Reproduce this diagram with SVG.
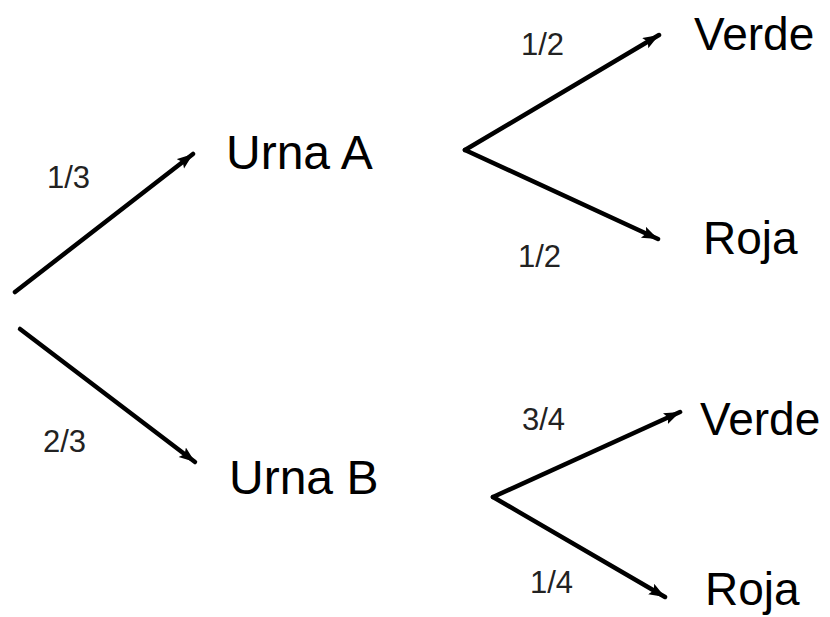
<svg xmlns="http://www.w3.org/2000/svg" width="830" height="617" viewBox="0 0 830 617">
<defs>
<style>
.c{stroke:#000;stroke-width:4.5;stroke-linecap:round;fill:none;marker-end:url(#ah)}
.n{font-family:"Liberation Sans",Arial,sans-serif;font-size:46px;fill:#000}
.u{font-size:48px}
.p{font-family:"Liberation Sans",Arial,sans-serif;font-size:31px;fill:#222}
</style>
<marker id="ah" markerUnits="userSpaceOnUse" markerWidth="20" markerHeight="14" refX="16" refY="6" orient="auto">
<path d="M0,0 L16,6 L0,12 L3,6 Z" fill="#000"/>
</marker>
</defs>
<rect width="830" height="617" fill="#fff"/>
<g id="connectors">
<line class="c" x1="15" y1="292" x2="193" y2="154"/>
<line class="c" x1="20" y1="329" x2="195" y2="462"/>
<line class="c" x1="465" y1="150" x2="659" y2="35"/>
<line class="c" x1="465" y1="150" x2="658" y2="239"/>
<line class="c" x1="493" y1="497" x2="680" y2="412"/>
<line class="c" x1="493" y1="497" x2="665" y2="597"/>
</g>
<g id="urnaA"><text class="n u" x="226" y="169">Urna A</text></g>
<g id="urnaB"><text class="n u" x="229" y="494">Urna B</text></g>
<g id="verdeA"><text class="n" x="694" y="50">Verde</text></g>
<g id="rojaA"><text class="n" x="703" y="254">Roja</text></g>
<g id="verdeB"><text class="n" x="700" y="435">Verde</text></g>
<g id="rojaB"><text class="n" x="705" y="605">Roja</text></g>
<g id="labels">
<text class="p" x="47" y="188">1/3</text>
<text class="p" x="43" y="452">2/3</text>
<text class="p" x="521" y="55">1/2</text>
<text class="p" x="518" y="267">1/2</text>
<text class="p" x="522" y="430">3/4</text>
<text class="p" x="530" y="593">1/4</text>
</g>
</svg>
